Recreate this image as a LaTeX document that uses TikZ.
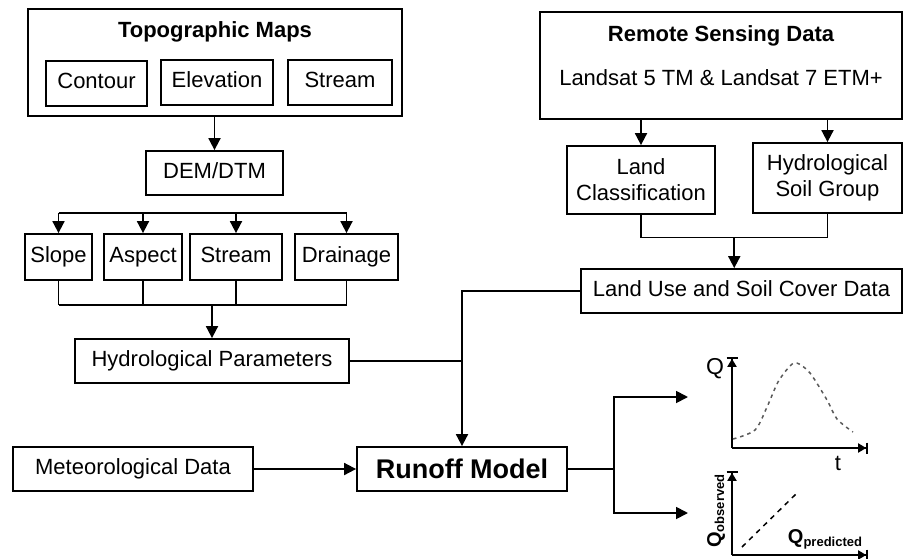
\documentclass[tikz,border=0pt]{standalone}
\usepackage{fontspec}
\setmainfont{Liberation Sans}
\usetikzlibrary{arrows.meta, positioning, calc}

\begin{document}
\begin{tikzpicture}[
  x=1pt, y=-1pt,
  font=\fontsize{22}{26}\selectfont,
  blk/.style={draw, line width=1.8pt, inner sep=0pt, align=center},
  one/.style={blk, text height=15pt, text depth=5pt},
  a/.style={-{Triangle[length=12pt,width=12pt]}, line width=1.8pt},
  ln/.style={line width=1.8pt},
  axis/.style={line width=1.8pt, -{Triangle[length=8pt,width=9pt]Bar[width=11pt,line width=1.8pt]}}
]
\useasboundingbox (0,0) rectangle (903,558);

% topographic branch
\node[blk, minimum width=374pt, minimum height=107pt] (topo) at (215,62.5) {};
\node[font=\fontsize{22}{26}\selectfont\bfseries] (topotitle) at (215,32) {Topographic Maps};
\node[one, minimum width=101pt, minimum height=45pt] (contour) at (96.5,83.5) {Contour};
\node[one, minimum width=112pt, minimum height=45pt] (elev) at (217,82.5) {Elevation};
\node[one, minimum width=104pt, minimum height=45pt] (streama) at (340,82.5) {Stream};
\node[one, minimum width=137pt, minimum height=44pt] (dem) at (214.5,173) {DEM/DTM};
\draw[a] (topo.south -| dem.north) -- (dem.north);

\node[one, minimum width=67pt, minimum height=46pt] (slope) at (58.5,257) {Slope};
\node[one, minimum width=78pt, minimum height=46pt] (aspect) at (143,257) {Aspect};
\node[one, minimum width=92pt, minimum height=46pt] (streamb) at (236,257) {Stream};
\node[one, minimum width=103pt, minimum height=46pt] (drain) at (346.5,257) {Drainage};

\coordinate (fork) at (0,213);
\coordinate (join) at (0,305);
\draw[ln] (slope.north |- fork) -- (drain.north |- fork);
\draw[ln] (slope.south |- join) -- (drain.south |- join);
\foreach \n in {slope,aspect,streamb,drain} {
  \draw[a] (\n.north |- fork) -- (\n.north);
  \draw[ln] (\n.south) -- (\n.south |- join);
}

\node[one, minimum width=274pt, minimum height=44pt] (params) at (212,361) {Hydrological Parameters};
\draw[a] (params.north |- join) -- (params.north);

% remote sensing branch
\node[blk, minimum width=362pt, minimum height=107pt] (remote) at (721,65.5) {};
\node[font=\fontsize{22}{26}\selectfont\bfseries] (remotetitle) at (721,36) {Remote Sensing Data};
\node (remotesub) at (721,78) {Landsat 5 TM \& Landsat 7 ETM+};

\node[blk, minimum width=148pt, minimum height=68pt] (landclass) at (641,180) {Land\\Classification};
\node[blk, minimum width=149pt, minimum height=70pt] (hsg) at (827.5,178) {Hydrological\\Soil Group};
\draw[a] (landclass.north |- remote.south) -- (landclass.north);
\draw[a] (hsg.north |- remote.south) -- (hsg.north);

\node[one, minimum width=321pt, minimum height=44pt] (landuse) at (741.5,291) {Land Use and Soil Cover Data};
\coordinate (merge) at ($(landclass.south)!0.5!(hsg.south) + (0,23)$);
\draw[ln] (landclass.south) |- (merge) -| (hsg.south);
\draw[a] (merge) -- (merge |- landuse.north);

% model
\node[one, minimum width=240pt, minimum height=44pt] (meteo) at (133,469) {Meteorological Data};
\node[blk, minimum width=210pt, minimum height=44pt, font=\fontsize{27}{30}\selectfont\bfseries] (runoff) at (462,469) {Runoff Model};

\draw[a] (landuse.west) -| (runoff.north);
\draw[ln] (params.east) -- (params.east -| runoff.north);
\draw[a] (meteo) -- (runoff);

\coordinate (qt) at (688,397);
\coordinate (qq) at (688,513);
\draw[ln] (runoff.east) -- ++(46,0) coordinate (split);
\draw[a] (split) |- (qt);
\draw[a] (split) |- (qq);

% hydrograph
\coordinate (o1) at (732,448);
\draw[axis] (o1) -- (732,357);
\draw[axis] (o1) -- (868,448);
\node (qlab) at (715,369) {\fontsize{23}{26}\selectfont Q};
\node (tlab) at (838,463) {t};
\draw[gray!70!black, line width=1.5pt, dash pattern=on 3.5pt off 4pt]
  plot[smooth] coordinates {(733,439) (755,430) (767,407) (778,382) (790,366) (797,363) (810,373) (827,400) (837,419) (853,432)};

% observed vs predicted
\coordinate (o2) at (732,555);
\draw[axis] (o2) -- (732,471);
\draw[axis] (o2) -- (868,555);
\draw[line width=1.5pt, dash pattern=on 5pt off 5pt] (742,547) -- (798,492);
\node[rotate=90] (qobs) at (716,511) {\fontsize{20}{20}\selectfont\bfseries Q\raisebox{-0.3ex}{\fontsize{13}{13}\selectfont observed}};
\node (qpred) at (825,539) {\fontsize{20}{20}\selectfont\bfseries Q\raisebox{-0.3ex}{\fontsize{13}{13}\selectfont predicted}};
\end{tikzpicture}
\end{document}
